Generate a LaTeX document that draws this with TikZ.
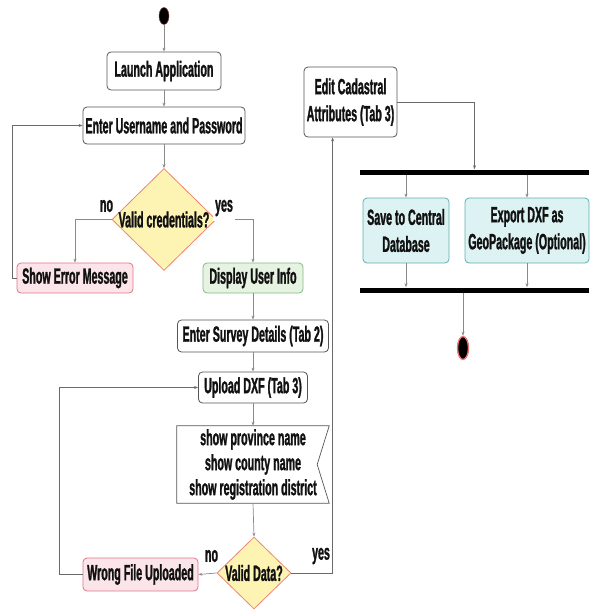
\documentclass[tikz,border=0pt]{standalone}
\usepackage{fontspec}
\newfontfamily\flowfont{Liberation Sans Bold}[FakeStretch=0.485, FakeBold=1.2]
\usetikzlibrary{calc, positioning, arrows.meta, shapes.geometric}
\definecolor{color_text}{HTML}{111111}
\definecolor{color_edge}{HTML}{555555}
\definecolor{color_line}{HTML}{8A8A8A}
\definecolor{color_loop}{HTML}{6A6A6A}
\definecolor{color_decide}{HTML}{FDF4B4}
\definecolor{color_decide_edge}{HTML}{EE8572}
\definecolor{color_error}{HTML}{FCE5EA}
\definecolor{color_error_edge}{HTML}{E07585}
\definecolor{color_ok}{HTML}{E6F3E2}
\definecolor{color_ok_edge}{HTML}{80BC80}
\definecolor{color_store}{HTML}{DDF2F2}
\definecolor{color_store_edge}{HTML}{60B0B0}
\definecolor{color_stop}{HTML}{E87878}
\tikzset{
  flow_text/.style={font=\flowfont\fontsize{22}{27}\selectfont, text=color_text},
  action_box/.style={flow_text, draw=color_edge, line width=0.8pt, rounded corners=4pt, fill=white, inner sep=0pt, align=center},
  error_box/.style={action_box, draw=color_error_edge, fill=color_error},
  ok_box/.style={action_box, draw=color_ok_edge, fill=color_ok},
  store_box/.style={action_box, draw=color_store_edge, fill=color_store},
  decide_shape/.style={diamond, draw=color_decide_edge, line width=0.8pt, fill=color_decide, inner sep=0pt},
  branch_label/.style={flow_text, inner sep=0pt},
  sync_bar/.style={fill=black, inner sep=0pt, minimum height=5pt},
  start_dot/.style={ellipse, fill=black, draw=color_stop!60!black, line width=0.5pt, inner sep=0pt, minimum width=10pt, minimum height=17pt},
  stop_dot/.style={ellipse, fill=black, draw=color_stop, line width=1.4pt, inner sep=0pt, minimum width=11pt, minimum height=23pt},
  flow_arrow/.style={-{Stealth[length=4pt, width=3pt]}, draw=color_line, line width=0.7pt},
  loop_arrow/.style={-{Stealth[length=4pt, width=3pt]}, draw=color_loop, line width=0.7pt},
}

\begin{document}
\begin{tikzpicture}[x=1pt, y=-1pt]
    \useasboundingbox (0,0) rectangle (589,610);
    % login part
    \node[start_dot] (start) at (164,16) {};
    \node[action_box, minimum width=114pt, minimum height=38pt] (launch) at (164,71) {Launch Application};
    \node[action_box, minimum width=162pt, minimum height=37pt] (enter) at (164,125.5) {Enter Username and Password};
    \node[decide_shape, minimum width=104pt, minimum height=102pt,
      label={[flow_text]center:Valid credentials?}] (cred) at (164,219.5) {};
    \node[error_box, minimum width=116pt, minimum height=30pt] (error) at (75,278) {Show Error Message};
    \node[ok_box, minimum width=100pt, minimum height=30pt] (display) at (253,278) {Display User Info};
    % survey and upload
    \node[action_box, minimum width=151pt, minimum height=32pt] (survey) at (253,336) {Enter Survey Details (Tab 2)};
    \node[action_box, minimum width=109pt, minimum height=31pt] (upload) at (253,387.5) {Upload DXF (Tab 3)};
    \node[flow_text, align=center, minimum width=152pt, minimum height=77pt, inner sep=0pt] (info) at (253,464.5)
      {show province name\\[-2pt]show county name\\[-2pt]show registration district};
    \draw[color_edge, line width=0.7pt] (info.north west) -- (info.north east) -- ($(info.east)+(-12,0)$)
      -- (info.south east) -- (info.south west) -- cycle;
    \node[decide_shape, minimum width=74pt, minimum height=72pt,
      label={[flow_text]center:Valid Data?}] (data) at (254,573) {};
    \node[error_box, minimum width=115pt, minimum height=33pt] (wrong) at (140.5,574.5) {Wrong File Uploaded};
    % attributes, fork and join
    \node[action_box, minimum width=93pt, minimum height=70pt] (edit) at (350.5,102) {Edit Cadastral\\Attributes (Tab 3)};
    \coordinate (edit_in) at ([xshift=29pt]edit.south west);
    \node[sync_bar, minimum width=229pt] (fork) at (474.5,172) {};
    \node[store_box, minimum width=86pt, minimum height=65pt] (save) at (406,230.5) {Save to Central\\Database};
    \node[store_box, minimum width=124pt, minimum height=65pt] (export) at (527,230.5) {Export DXF as\\GeoPackage (Optional)};
    \node[sync_bar, minimum width=229pt] (join) at (474.5,290) {};
    \node[stop_dot] (stop) at (463,348) {};

    \draw[flow_arrow] (start) -- (launch);
    \draw[flow_arrow] (launch) -- (enter);
    \draw[flow_arrow] (enter) -- (cred);
    \draw[flow_arrow] (cred.west) -| (error.north);
    \draw[flow_arrow] (cred.east) -| (display.north);
    \node[branch_label] at (106.5,206) {no};
    \node[branch_label, fill=white, inner sep=2pt, minimum height=26pt] at (224,208) {yes};
    \draw[loop_arrow] (error.west) -- ++(-4,0) |- (enter.west);
    \draw[flow_arrow] (display) -- (survey);
    \draw[flow_arrow] (survey) -- (upload);
    \draw[flow_arrow] (upload) -- (info);
    \draw[flow_arrow] (info.south) -- (data.north);
    \draw[flow_arrow] (data.west) -- (wrong.east);
    \draw[loop_arrow] (wrong.west) -- ++(-23,0) |- (upload.west);
    \draw[loop_arrow] (data.east) -| (edit_in);
    \node[branch_label] at (211.5,556) {no};
    \node[branch_label] at (321,556) {yes};
    \draw[loop_arrow] (edit.east) -| (fork.north);
    \draw[flow_arrow] (fork.south -| save.north) -- (save.north);
    \draw[flow_arrow] (fork.south -| export.north) -- (export.north);
    \draw[flow_arrow] (save.south) -- (save.south |- join.north);
    \draw[flow_arrow] (export.south) -- (export.south |- join.north);
    \draw[flow_arrow] (join.south -| stop.north) -- (stop.north);
  \end{tikzpicture}
\end{document}
